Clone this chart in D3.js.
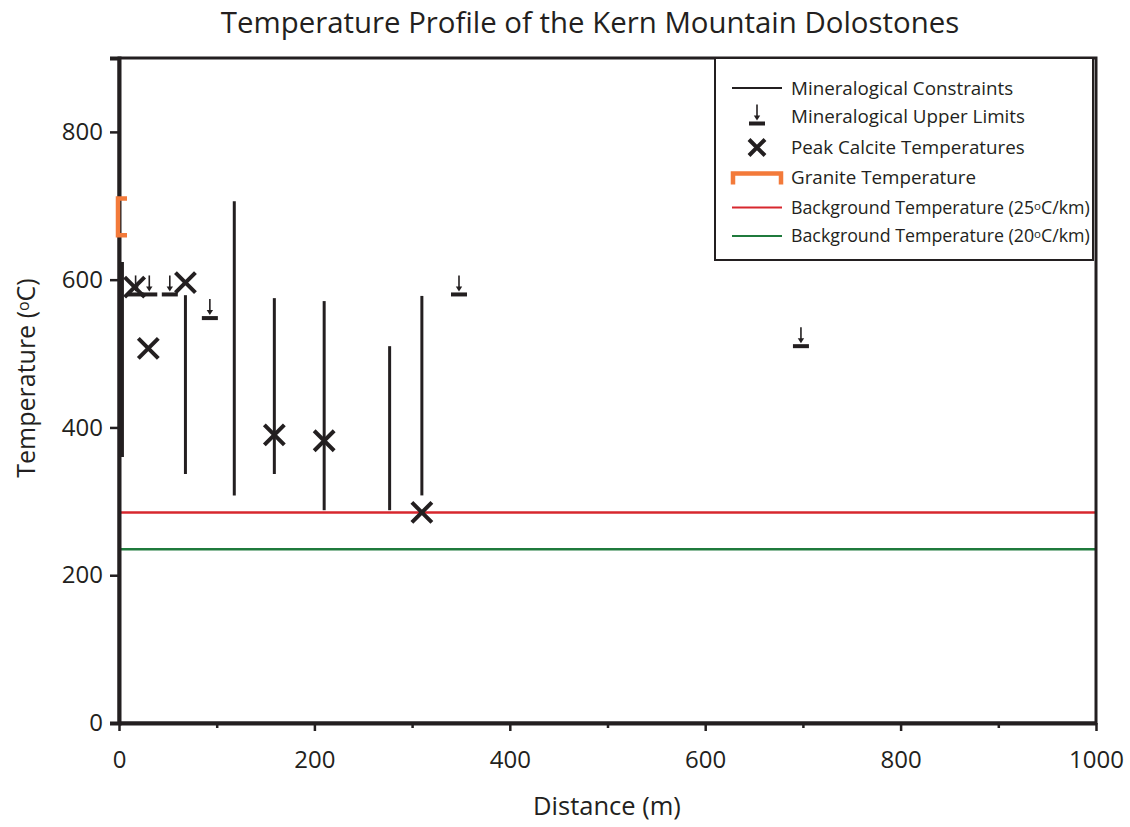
<!DOCTYPE html>
<html>
<head>
<meta charset="utf-8">
<script src="https://cdn.jsdelivr.net/npm/d3@7/dist/d3.min.js"></script>
<style>
  html, body { margin: 0; padding: 0; background: #fff; }
  svg { display: block; font-family: "Open Sans", "Noto Sans", sans-serif; }
</style>
</head>
<body>
<svg id="chart" width="1130" height="827"></svg>
<script>
// ---- data ----
const title = "Temperature Profile of the Kern Mountain Dolostones";
const xTicks = [0, 100, 200, 300, 400, 500, 600, 700, 800, 900, 1000];
const xTickLabels = [0, 200, 400, 600, 800, 1000];
const yTicks = [0, 200, 400, 600, 800];

// Mineralogical constraints: distance, min temp, max temp
const constraintX   = [3, 68, 118, 159, 210, 277, 310];
const constraintMin = [360, 337, 308, 337, 288, 288, 308];
const constraintMax = [624, 579, 706, 575, 571, 510, 578];

// Mineralogical upper limits: distance, temperature
const upperX = [17, 31, 52, 93, 348, 698];
const upperT = [580, 580, 580, 548, 580, 510];

// Peak calcite temperatures
const peakX = [16, 30, 68, 159, 210, 310];
const peakT = [590, 507, 596, 390, 382, 285];

// Granite temperature range (at distance 0)
const graniteX = 0;
const graniteRange = [660, 710];

// Background temperatures
const bg25 = 285;
const bg20 = 235;

const legendLabels = [
  "Mineralogical Constraints",
  "Mineralogical Upper Limits",
  "Peak Calcite Temperatures",
  "Granite Temperature",
  "Background Temperature (25",
  "Background Temperature (20"
];

// ---- styles ----
const INK = "#231f20";
const RED = "#d7272e";
const GREEN = "#1f7a3c";
const ORANGE = "#f37a3a";

const svg = d3.select("#chart");
const L = 119, R = 1096, T = 58, B = 723;
const x = d3.scaleLinear().domain([0, 1000]).range([L, R]);
const y = d3.scaleLinear().domain([0, 900]).range([B, T]);

// title
svg.append("text")
  .attr("x", 590).attr("y", 33)
  .attr("text-anchor", "middle")
  .attr("font-size", 29.4)
  .attr("fill", INK)
  .text(title);

// background lines
svg.append("line")
  .attr("x1", x(0)).attr("x2", x(1000))
  .attr("y1", y(bg25)).attr("y2", y(bg25))
  .attr("stroke", RED).attr("stroke-width", 2.5);
svg.append("line")
  .attr("x1", x(0)).attr("x2", x(1000))
  .attr("y1", y(bg20)).attr("y2", y(bg20))
  .attr("stroke", GREEN).attr("stroke-width", 2.5);

// frame
svg.append("rect")
  .attr("x", L).attr("y", T).attr("width", R - L).attr("height", B - T)
  .attr("fill", "none").attr("stroke", INK).attr("stroke-width", 3);

// x axis
const xAxis = d3.axisBottom(x)
  .tickValues(xTicks)
  .tickSize(0)
  .tickFormat(d => xTickLabels.includes(d) ? d : "");
const gx = svg.append("g").attr("transform", `translate(0,${B})`).call(xAxis);
gx.select(".domain").attr("stroke", INK).attr("stroke-width", 4);
gx.selectAll(".tick line")
  .attr("y2", d => xTickLabels.includes(d) ? 8 : 5)
  .attr("stroke", INK).attr("stroke-width", 2.5);
gx.selectAll(".tick text")
  .attr("y", 45).attr("dy", 0)
  .attr("font-size", 24).attr("fill", INK)
  .attr("font-family", "Open Sans, sans-serif");

// y axis
const yAxis = d3.axisLeft(y).tickValues(yTicks).tickSize(9).tickPadding(7);
const gy = svg.append("g").attr("transform", `translate(${L},0)`).call(yAxis);
gy.select(".domain").attr("stroke", INK).attr("stroke-width", 4);
gy.selectAll(".tick line").attr("stroke", INK).attr("stroke-width", 2.5);
gy.selectAll(".tick text")
  .attr("font-size", 24).attr("fill", INK)
  .attr("font-family", "Open Sans, sans-serif");

// axis titles
svg.append("text")
  .attr("x", 607).attr("y", 815)
  .attr("text-anchor", "middle")
  .attr("font-size", 25.5).attr("fill", INK)
  .text("Distance (m)");

const yt = svg.append("text")
  .attr("transform", "translate(35,378) rotate(-90)")
  .attr("text-anchor", "middle")
  .attr("font-size", 25).attr("fill", INK);
yt.append("tspan").text("Temperature (");
yt.append("tspan").attr("font-size", 16).attr("baseline-shift", "35%").text("o");
yt.append("tspan").text("C)");

// granite bracket
function bracketPath(px, y1, y2, w) {
  return `M${px + w},${y1} H${px} V${y2} H${px + w}`;
}
svg.append("path")
  .attr("d", bracketPath(x(graniteX) - 1, y(graniteRange[1]), y(graniteRange[0]), 9))
  .attr("fill", "none").attr("stroke", ORANGE).attr("stroke-width", 4.5);

// constraints
svg.selectAll("line.constraint")
  .data(constraintX.map((d, i) => ({ x: d, lo: constraintMin[i], hi: constraintMax[i] })))
  .join("line").attr("class", "constraint")
  .attr("x1", d => x(d.x)).attr("x2", d => x(d.x))
  .attr("y1", d => y(d.hi)).attr("y2", d => y(d.lo))
  .attr("stroke", INK)
  .attr("stroke-width", (d, i) => i === 0 ? 4 : 3);

// upper limits symbol
function upperSymbol(g) {
  g.append("rect").attr("x", -8).attr("y", -2).attr("width", 16).attr("height", 4).attr("fill", INK);
  g.append("line").attr("x1", 0).attr("x2", 0).attr("y1", -19).attr("y2", -7)
    .attr("stroke", INK).attr("stroke-width", 1.6);
  g.append("path").attr("d", "M-3.2,-8 L3.2,-8 L0,-3 Z").attr("fill", INK);
}
svg.selectAll("g.upper")
  .data(upperX.map((d, i) => ({ x: d, t: upperT[i] })))
  .join("g").attr("class", "upper")
  .attr("transform", d => `translate(${x(d.x)},${y(d.t)})`)
  .each(function () { upperSymbol(d3.select(this)); });

// peak X marks
function xMark(g) {
  g.append("path").attr("d", "M-10,-10 L10,10 M-10,10 L10,-10")
    .attr("stroke", INK).attr("stroke-width", 4).attr("fill", "none");
}
svg.selectAll("g.peak")
  .data(peakX.map((d, i) => ({ x: d, t: peakT[i] })))
  .join("g").attr("class", "peak")
  .attr("transform", d => `translate(${x(d.x)},${y(d.t)})`)
  .each(function () { xMark(d3.select(this)); });

// legend
const lg = svg.append("g");
lg.append("rect")
  .attr("x", 715).attr("y", 58).attr("width", 378).attr("height", 202)
  .attr("fill", "#fff").attr("stroke", INK).attr("stroke-width", 2);
const rowY = [88, 116.5, 147.5, 177.5, 207.5, 236];
const sx = 757, tx = 791;
rowY.forEach((ry, i) => {
  const fs = i >= 4 ? 17.8 : 18.8;
  const t = lg.append("text").attr("x", tx).attr("y", ry).attr("dy", "0.35em")
    .attr("font-size", fs).attr("fill", INK);
  t.append("tspan").text(legendLabels[i]);
  if (i >= 4) {
    t.append("tspan").attr("font-size", 11.5).attr("baseline-shift", "35%").text("o");
    t.append("tspan").text("C/km)");
  }
});
lg.append("line").attr("x1", 732).attr("x2", 782).attr("y1", rowY[0]).attr("y2", rowY[0])
  .attr("stroke", INK).attr("stroke-width", 2);
upperSymbol(lg.append("g").attr("transform", `translate(${sx},${rowY[1] + 7})`));
lg.append("path").attr("d", "M-8,-8 L8,8 M-8,8 L8,-8")
  .attr("transform", `translate(${sx},${rowY[2]})`)
  .attr("stroke", INK).attr("stroke-width", 4).attr("fill", "none");
lg.append("path").attr("d", `M733,${rowY[3] + 7} V${rowY[3] - 4} H781 V${rowY[3] + 7}`)
  .attr("fill", "none").attr("stroke", ORANGE).attr("stroke-width", 4.5);
lg.append("line").attr("x1", 732).attr("x2", 782).attr("y1", rowY[4]).attr("y2", rowY[4])
  .attr("stroke", RED).attr("stroke-width", 2);
lg.append("line").attr("x1", 732).attr("x2", 782).attr("y1", rowY[5]).attr("y2", rowY[5])
  .attr("stroke", GREEN).attr("stroke-width", 2);
</script>
</body>
</html>
